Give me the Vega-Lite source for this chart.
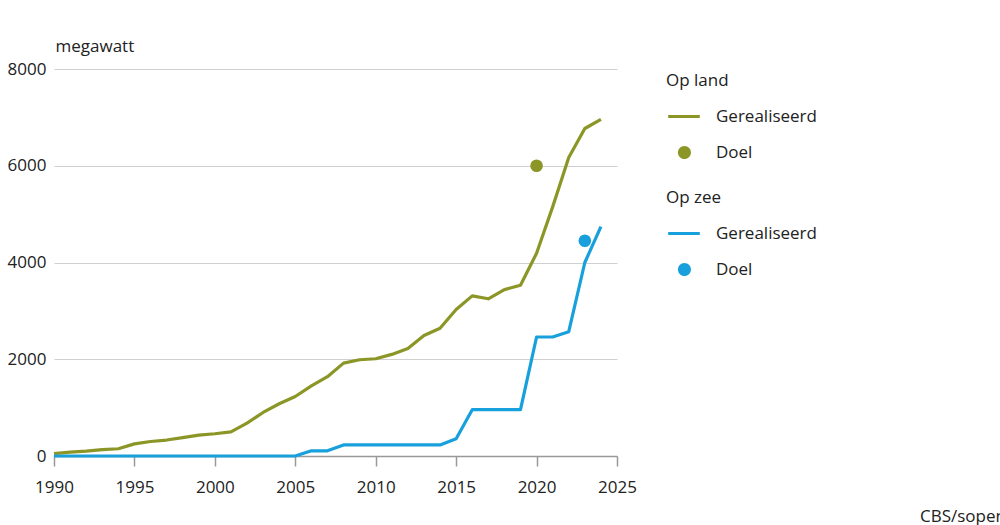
{
  "$schema": "https://vega.github.io/schema/vega-lite/v6.json",
  "width": 563,
  "height": 387,
  "autosize": {"type": "none"},
  "padding": {"left": 54, "top": 69, "right": 383, "bottom": 69},
  "background": "white",
  "config": {
    "font": "Open Sans",
    "view": {"stroke": null},
    "axis": {"labelFont": "Open Sans", "labelFontSize": 17, "labelColor": "#222222", "titleFont": "Open Sans"},
    "legend": {"labelFont": "Open Sans", "titleFont": "Open Sans"}
  },
  "title": {
    "text": "CBS/sopen",
    "orient": "bottom",
    "anchor": "start",
    "frame": "group",
    "dx": 866,
    "offset": 14,
    "baseline": "top",
    "fontSize": 17,
    "fontWeight": "normal",
    "color": "#222222",
    "font": "Open Sans"
  },
  "data": {
    "values": [
      {"year": 1990, "series": "Op land", "type": "Gerealiseerd", "mw": 50},
      {"year": 1991, "series": "Op land", "type": "Gerealiseerd", "mw": 80},
      {"year": 1992, "series": "Op land", "type": "Gerealiseerd", "mw": 100},
      {"year": 1993, "series": "Op land", "type": "Gerealiseerd", "mw": 130},
      {"year": 1994, "series": "Op land", "type": "Gerealiseerd", "mw": 150},
      {"year": 1995, "series": "Op land", "type": "Gerealiseerd", "mw": 250},
      {"year": 1996, "series": "Op land", "type": "Gerealiseerd", "mw": 300},
      {"year": 1997, "series": "Op land", "type": "Gerealiseerd", "mw": 330},
      {"year": 1998, "series": "Op land", "type": "Gerealiseerd", "mw": 380},
      {"year": 1999, "series": "Op land", "type": "Gerealiseerd", "mw": 430},
      {"year": 2000, "series": "Op land", "type": "Gerealiseerd", "mw": 460},
      {"year": 2001, "series": "Op land", "type": "Gerealiseerd", "mw": 500},
      {"year": 2002, "series": "Op land", "type": "Gerealiseerd", "mw": 680},
      {"year": 2003, "series": "Op land", "type": "Gerealiseerd", "mw": 900},
      {"year": 2004, "series": "Op land", "type": "Gerealiseerd", "mw": 1080},
      {"year": 2005, "series": "Op land", "type": "Gerealiseerd", "mw": 1230},
      {"year": 2006, "series": "Op land", "type": "Gerealiseerd", "mw": 1450},
      {"year": 2007, "series": "Op land", "type": "Gerealiseerd", "mw": 1640},
      {"year": 2008, "series": "Op land", "type": "Gerealiseerd", "mw": 1920},
      {"year": 2009, "series": "Op land", "type": "Gerealiseerd", "mw": 1990},
      {"year": 2010, "series": "Op land", "type": "Gerealiseerd", "mw": 2010},
      {"year": 2011, "series": "Op land", "type": "Gerealiseerd", "mw": 2100},
      {"year": 2012, "series": "Op land", "type": "Gerealiseerd", "mw": 2220},
      {"year": 2013, "series": "Op land", "type": "Gerealiseerd", "mw": 2490},
      {"year": 2014, "series": "Op land", "type": "Gerealiseerd", "mw": 2640},
      {"year": 2015, "series": "Op land", "type": "Gerealiseerd", "mw": 3030},
      {"year": 2016, "series": "Op land", "type": "Gerealiseerd", "mw": 3310},
      {"year": 2017, "series": "Op land", "type": "Gerealiseerd", "mw": 3250},
      {"year": 2018, "series": "Op land", "type": "Gerealiseerd", "mw": 3440},
      {"year": 2019, "series": "Op land", "type": "Gerealiseerd", "mw": 3530},
      {"year": 2020, "series": "Op land", "type": "Gerealiseerd", "mw": 4190},
      {"year": 2021, "series": "Op land", "type": "Gerealiseerd", "mw": 5150},
      {"year": 2022, "series": "Op land", "type": "Gerealiseerd", "mw": 6170},
      {"year": 2023, "series": "Op land", "type": "Gerealiseerd", "mw": 6770},
      {"year": 2024, "series": "Op land", "type": "Gerealiseerd", "mw": 6960},
      {"year": 2020, "series": "Op land", "type": "Doel", "mw": 6000},
      {"year": 1990, "series": "Op zee", "type": "Gerealiseerd", "mw": 0},
      {"year": 1991, "series": "Op zee", "type": "Gerealiseerd", "mw": 0},
      {"year": 1992, "series": "Op zee", "type": "Gerealiseerd", "mw": 0},
      {"year": 1993, "series": "Op zee", "type": "Gerealiseerd", "mw": 0},
      {"year": 1994, "series": "Op zee", "type": "Gerealiseerd", "mw": 0},
      {"year": 1995, "series": "Op zee", "type": "Gerealiseerd", "mw": 0},
      {"year": 1996, "series": "Op zee", "type": "Gerealiseerd", "mw": 0},
      {"year": 1997, "series": "Op zee", "type": "Gerealiseerd", "mw": 0},
      {"year": 1998, "series": "Op zee", "type": "Gerealiseerd", "mw": 0},
      {"year": 1999, "series": "Op zee", "type": "Gerealiseerd", "mw": 0},
      {"year": 2000, "series": "Op zee", "type": "Gerealiseerd", "mw": 0},
      {"year": 2001, "series": "Op zee", "type": "Gerealiseerd", "mw": 0},
      {"year": 2002, "series": "Op zee", "type": "Gerealiseerd", "mw": 0},
      {"year": 2003, "series": "Op zee", "type": "Gerealiseerd", "mw": 0},
      {"year": 2004, "series": "Op zee", "type": "Gerealiseerd", "mw": 0},
      {"year": 2005, "series": "Op zee", "type": "Gerealiseerd", "mw": 0},
      {"year": 2006, "series": "Op zee", "type": "Gerealiseerd", "mw": 108},
      {"year": 2007, "series": "Op zee", "type": "Gerealiseerd", "mw": 108},
      {"year": 2008, "series": "Op zee", "type": "Gerealiseerd", "mw": 228},
      {"year": 2009, "series": "Op zee", "type": "Gerealiseerd", "mw": 228},
      {"year": 2010, "series": "Op zee", "type": "Gerealiseerd", "mw": 228},
      {"year": 2011, "series": "Op zee", "type": "Gerealiseerd", "mw": 228},
      {"year": 2012, "series": "Op zee", "type": "Gerealiseerd", "mw": 228},
      {"year": 2013, "series": "Op zee", "type": "Gerealiseerd", "mw": 228},
      {"year": 2014, "series": "Op zee", "type": "Gerealiseerd", "mw": 228},
      {"year": 2015, "series": "Op zee", "type": "Gerealiseerd", "mw": 357},
      {"year": 2016, "series": "Op zee", "type": "Gerealiseerd", "mw": 957},
      {"year": 2017, "series": "Op zee", "type": "Gerealiseerd", "mw": 957},
      {"year": 2018, "series": "Op zee", "type": "Gerealiseerd", "mw": 957},
      {"year": 2019, "series": "Op zee", "type": "Gerealiseerd", "mw": 957},
      {"year": 2020, "series": "Op zee", "type": "Gerealiseerd", "mw": 2460},
      {"year": 2021, "series": "Op zee", "type": "Gerealiseerd", "mw": 2460},
      {"year": 2022, "series": "Op zee", "type": "Gerealiseerd", "mw": 2570},
      {"year": 2023, "series": "Op zee", "type": "Gerealiseerd", "mw": 4000},
      {"year": 2024, "series": "Op zee", "type": "Gerealiseerd", "mw": 4740},
      {"year": 2023, "series": "Op zee", "type": "Doel", "mw": 4450}
    ]
  },
  "encoding": {
    "x": {
      "field": "year",
      "type": "quantitative",
      "scale": {"domain": [1990, 2025], "nice": false, "zero": false},
      "axis": {
        "title": null,
        "values": [1990, 1995, 2000, 2005, 2010, 2015, 2020, 2025],
        "format": "d",
        "grid": false,
        "domainColor": "#999999",
        "domainWidth": 1.5,
        "tickColor": "#999999",
        "tickWidth": 1.5,
        "tickSize": 10,
        "labelPadding": 13,
        "labelFlush": false
      }
    },
    "y": {
      "field": "mw",
      "type": "quantitative",
      "scale": {"domain": [0, 8000], "nice": false},
      "axis": {
        "title": "megawatt",
        "titleAngle": 0,
        "titleAlign": "left",
        "titleBaseline": "alphabetic",
        "titleX": 1,
        "titleY": -18,
        "titleFontSize": 17,
        "titleFontWeight": "normal",
        "titleColor": "#222222",
        "values": [0, 2000, 4000, 6000, 8000],
        "format": "d",
        "grid": true,
        "gridColor": "#d0d0d0",
        "gridWidth": 1,
        "domain": false,
        "ticks": false,
        "labelPadding": 8
      }
    }
  },
  "layer": [
    {
      "transform": [{"filter": "datum.series === 'Op land' && datum.type === 'Gerealiseerd'"}],
      "mark": {"type": "line", "color": "#8c9626", "strokeWidth": 3.2, "strokeJoin": "round"}
    },
    {
      "transform": [{"filter": "datum.series === 'Op zee' && datum.type === 'Gerealiseerd'"}],
      "mark": {"type": "line", "color": "#18a0dc", "strokeWidth": 3.2, "strokeJoin": "round"}
    },
    {
      "transform": [{"filter": "datum.type === 'Doel'"}],
      "mark": {"type": "circle", "size": 160, "opacity": 1},
      "encoding": {
        "color": {
          "field": "series",
          "type": "nominal",
          "scale": {"domain": ["Op land", "Op zee"], "range": ["#8c9626", "#18a0dc"]},
          "legend": null
        }
      }
    },
    {
      "transform": [{"filter": "datum.series === 'Op land'"}],
      "mark": {"type": "point", "filled": true, "color": "#8c9626", "opacity": 0},
      "encoding": {
        "shape": {
          "field": "type",
          "type": "nominal",
          "scale": {"domain": ["Gerealiseerd", "Doel"], "range": ["M-1,-0.24H4V0.24H-1Z", "M2.6,0A1.03,1.03,0,1,1,0.54,0A1.03,1.03,0,1,1,2.6,0Z"]},
          "legend": {
            "title": "Op land",
            "orient": "none",
            "legendX": 612,
            "legendY": 4,
            "padding": 0,
            "titleFontSize": 17,
            "titleFontWeight": "normal",
            "titleColor": "#222222",
            "titlePadding": 18,
            "labelFontSize": 17,
            "labelColor": "#222222",
            "labelOffset": 33,
            "symbolSize": 160,
            "symbolOpacity": 1,
            "symbolStrokeWidth": 0,
            "symbolFillColor": "#8c9626",
            "rowPadding": 18
          }
        }
      }
    },
    {
      "transform": [{"filter": "datum.series === 'Op zee'"}],
      "mark": {"type": "point", "filled": true, "color": "#18a0dc", "opacity": 0},
      "encoding": {
        "shape": {
          "field": "type",
          "type": "nominal",
          "scale": {"domain": ["Gerealiseerd", "Doel"], "range": ["M-1,-0.24H4V0.24H-1Z", "M2.6,0A1.03,1.03,0,1,1,0.54,0A1.03,1.03,0,1,1,2.6,0Z"]},
          "legend": {
            "title": "Op zee",
            "orient": "none",
            "legendX": 612,
            "legendY": 121,
            "padding": 0,
            "titleFontSize": 17,
            "titleFontWeight": "normal",
            "titleColor": "#222222",
            "titlePadding": 18,
            "labelFontSize": 17,
            "labelColor": "#222222",
            "labelOffset": 33,
            "symbolSize": 160,
            "symbolOpacity": 1,
            "symbolStrokeWidth": 0,
            "symbolFillColor": "#18a0dc",
            "rowPadding": 18
          }
        }
      }
    }
  ],
  "resolve": {"scale": {"shape": "independent"}}
}
